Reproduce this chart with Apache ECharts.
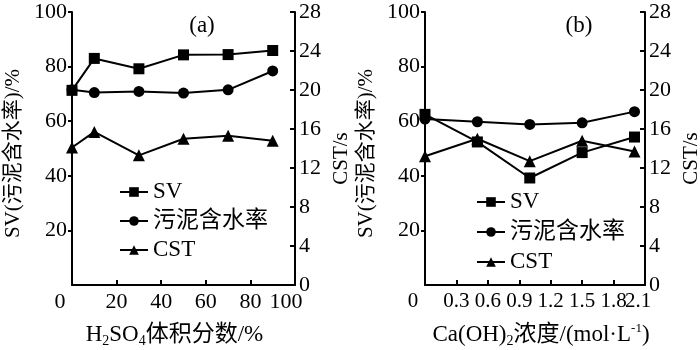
<!DOCTYPE html>
<html>
<head>
<meta charset="utf-8">
<script src="https://cdn.jsdelivr.net/npm/echarts@6/dist/echarts.min.js"></script>
<style>
  html, body { margin: 0; padding: 0; background: #fff; }
  #myChart { width: 700px; height: 350px; }
</style>
</head>
<body>
<div id="myChart"></div>
<script>
  // (a) H2SO4
  var xA = [0, 10, 30, 50, 70, 90]
  var svA = [71.3, 83.0, 79.2, 84.3, 84.4, 85.9]
  var wcA = [71.5, 70.5, 70.9, 70.3, 71.5, 78.4]
  var cstA = [14.1, 15.7, 13.3, 15.0, 15.3, 14.8]
  // (b) Ca(OH)2
  var xB = [0, 0.5, 1.0, 1.5, 2.0]
  var svB = [62.5, 52.4, 39.2, 48.5, 54.2]
  var wcB = [60.8, 59.8, 58.8, 59.4, 63.5]
  var cstB = [13.2, 15.0, 12.7, 14.8, 13.7]
  // tick labels of (b), one every 0.3 from 0 to 2.1
  var ticksB = ['0', '0.3', '0.6', '0.9', '1.2', '1.5', '1.8', '2.1']

  var names = ['SV', '污泥含水率', 'CST']
  var symbols = ['rect', 'circle', 'triangle']

  var FONT = "'Liberation Serif', 'Noto Sans CJK SC', serif"
  var txt = {color: '#000', fontFamily: FONT, fontSize: 22}

  function pairs(xs, ys) {
    return xs.map(function (x, i) { return [x, ys[i]] })
  }

  function yAxes(grid) {
    return [
      {
        type: 'value', gridIndex: grid, min: 0, max: 100, interval: 20,
        name: 'SV(污泥含水率)/%', nameLocation: 'middle', nameGap: 48, nameRotate: 90,
        nameTextStyle: {color: '#000', fontFamily: FONT, fontSize: 21, padding: [0, 10, 0, 0]},
        axisLine: {show: true, lineStyle: {color: '#000', width: 2}},
        axisTick: {show: true, inside: false, length: 4, lineStyle: {color: '#000', width: 2}},
        axisLabel: Object.assign({margin: 5, showMinLabel: false, showMaxLabel: true}, txt),
        splitLine: {show: false}
      },
      {
        type: 'value', gridIndex: grid, min: 0, max: 28, interval: 4, position: 'right',
        name: 'CST/s', nameLocation: 'middle', nameGap: 36, nameRotate: 90,
        nameTextStyle: {color: '#000', fontFamily: FONT, fontSize: 21, padding: [0, 20, 0, 0]},
        axisLine: {show: true, lineStyle: {color: '#000', width: 2}},
        axisTick: {show: true, inside: true, length: 5, lineStyle: {color: '#000', width: 2}},
        axisLabel: Object.assign({margin: 4, showMinLabel: true, showMaxLabel: true}, txt),
        splitLine: {show: false}
      }
    ]
  }

  function lines(grid, xs, sets) {
    return sets.map(function (ys, i) {
      return {
        name: names[i], type: 'line',
        xAxisIndex: grid == 0 ? 0 : 1, yAxisIndex: grid * 2 + (i == 2 ? 1 : 0),
        symbol: symbols[i], symbolSize: i == 2 ? 12 : 11,
        lineStyle: {color: '#000', width: 2},
        itemStyle: {color: '#000'},
        data: pairs(xs, ys)
      }
    })
  }

  var richTick = {
    l: {fontFamily: FONT, fontSize: 22, color: '#000', padding: [0, 24, 0, 0]},
    r: {fontFamily: FONT, fontSize: 22, color: '#000', padding: [0, 18, 0, 0]}
  }
  var richTickB = {
    l: {fontFamily: FONT, fontSize: 21, color: '#000', padding: [0, 24, 0, 0]},
    r: {fontFamily: FONT, fontSize: 21, color: '#000', padding: [0, 14, 0, 0]}
  }
  var richName = {
    n: {fontFamily: FONT, fontSize: 23, color: '#000'},
    s: {fontFamily: FONT, fontSize: 14, color: '#000', padding: [13, 0, 0, 0]},
    u: {fontFamily: FONT, fontSize: 13, color: '#000', padding: [0, 0, 11, 0]}
  }
  var axisLineStyle = {show: true, lineStyle: {color: '#000', width: 2}}
  var axisTickStyle = {show: true, inside: true, length: 5, lineStyle: {color: '#000', width: 2}}

  var myChart = echarts.init(document.getElementById('myChart'))
  myChart.setOption({
    animation: false,
    backgroundColor: '#fff',
    title: [
      {text: '(a)', left: 197, top: 9, textAlign: 'center', textStyle: {fontFamily: FONT, fontSize: 23, fontWeight: 'normal', color: '#000'}},
      {text: '(b)', left: 574, top: 9, textAlign: 'center', textStyle: {fontFamily: FONT, fontSize: 23, fontWeight: 'normal', color: '#000'}}
    ],
    legend: [
      {data: names, orient: 'vertical', left: 119, top: 179, padding: 0, itemGap: 3, itemWidth: 28, itemHeight: 12,
        textStyle: Object.assign({}, txt, {fontSize: 23, lineHeight: 26})},
      {data: names, orient: 'vertical', left: 476, top: 189, padding: 0, itemGap: 4, itemWidth: 28, itemHeight: 12,
        textStyle: Object.assign({}, txt, {fontSize: 23, lineHeight: 26})}
    ],
    grid: [
      {left: 72, right: 405, top: 12, bottom: 65, outerBoundsMode: 'none'},
      {left: 425, right: 55, top: 12, bottom: 65, outerBoundsMode: 'none'}
    ],
    xAxis: [
      {
        type: 'value', gridIndex: 0, position: 'bottom', min: 0, max: 100, interval: 20,
        name: '{n|H}{s|2}{n|SO}{s|4}{n|体积分数/%}', nameLocation: 'middle', nameGap: 36,
        nameTextStyle: {rich: richName, padding: [0, 18, 0, 0]},
        axisLine: axisLineStyle, axisTick: axisTickStyle, splitLine: {show: false},
        axisLabel: Object.assign({margin: 6, showMinLabel: true, showMaxLabel: true, rich: richTick, formatter: function (v) {
          if (v == 0) return '{l|0}'
          if (v == 100) return '{r|100}'
          return v
        }}, txt)
      },
      // (b) data axis, its labels come from the category axis below
      {
        type: 'value', gridIndex: 1, position: 'bottom', min: 0, max: 2.1,
        axisLine: {show: false}, axisTick: {show: false}, axisLabel: {show: false}, splitLine: {show: false}
      },
      {
        type: 'category', gridIndex: 1, position: 'bottom', boundaryGap: false, data: ticksB,
        name: '{n|Ca(OH)}{s|2}{n|浓度/(mol·L}{u|-1}{n|)}', nameLocation: 'middle', nameGap: 36,
        nameTextStyle: {rich: richName, padding: [0, 0, 0, 12]},
        axisLine: axisLineStyle,
        axisTick: Object.assign({interval: 0, alignWithLabel: true}, axisTickStyle),
        splitLine: {show: false},
        axisLabel: Object.assign({margin: 6, interval: 0, rich: richTickB, formatter: function (v, i) {
          if (i == 0) return '{l|' + v + '}'
          if (i == ticksB.length - 1) return '{r|' + v + '}'
          return v
        }}, txt, {fontSize: 21})
      }
    ],
    yAxis: yAxes(0).concat(yAxes(1)),
    series: lines(0, xA, [svA, wcA, cstA]).concat(lines(1, xB, [svB, wcB, cstB]))
  })
</script>
</body>
</html>
